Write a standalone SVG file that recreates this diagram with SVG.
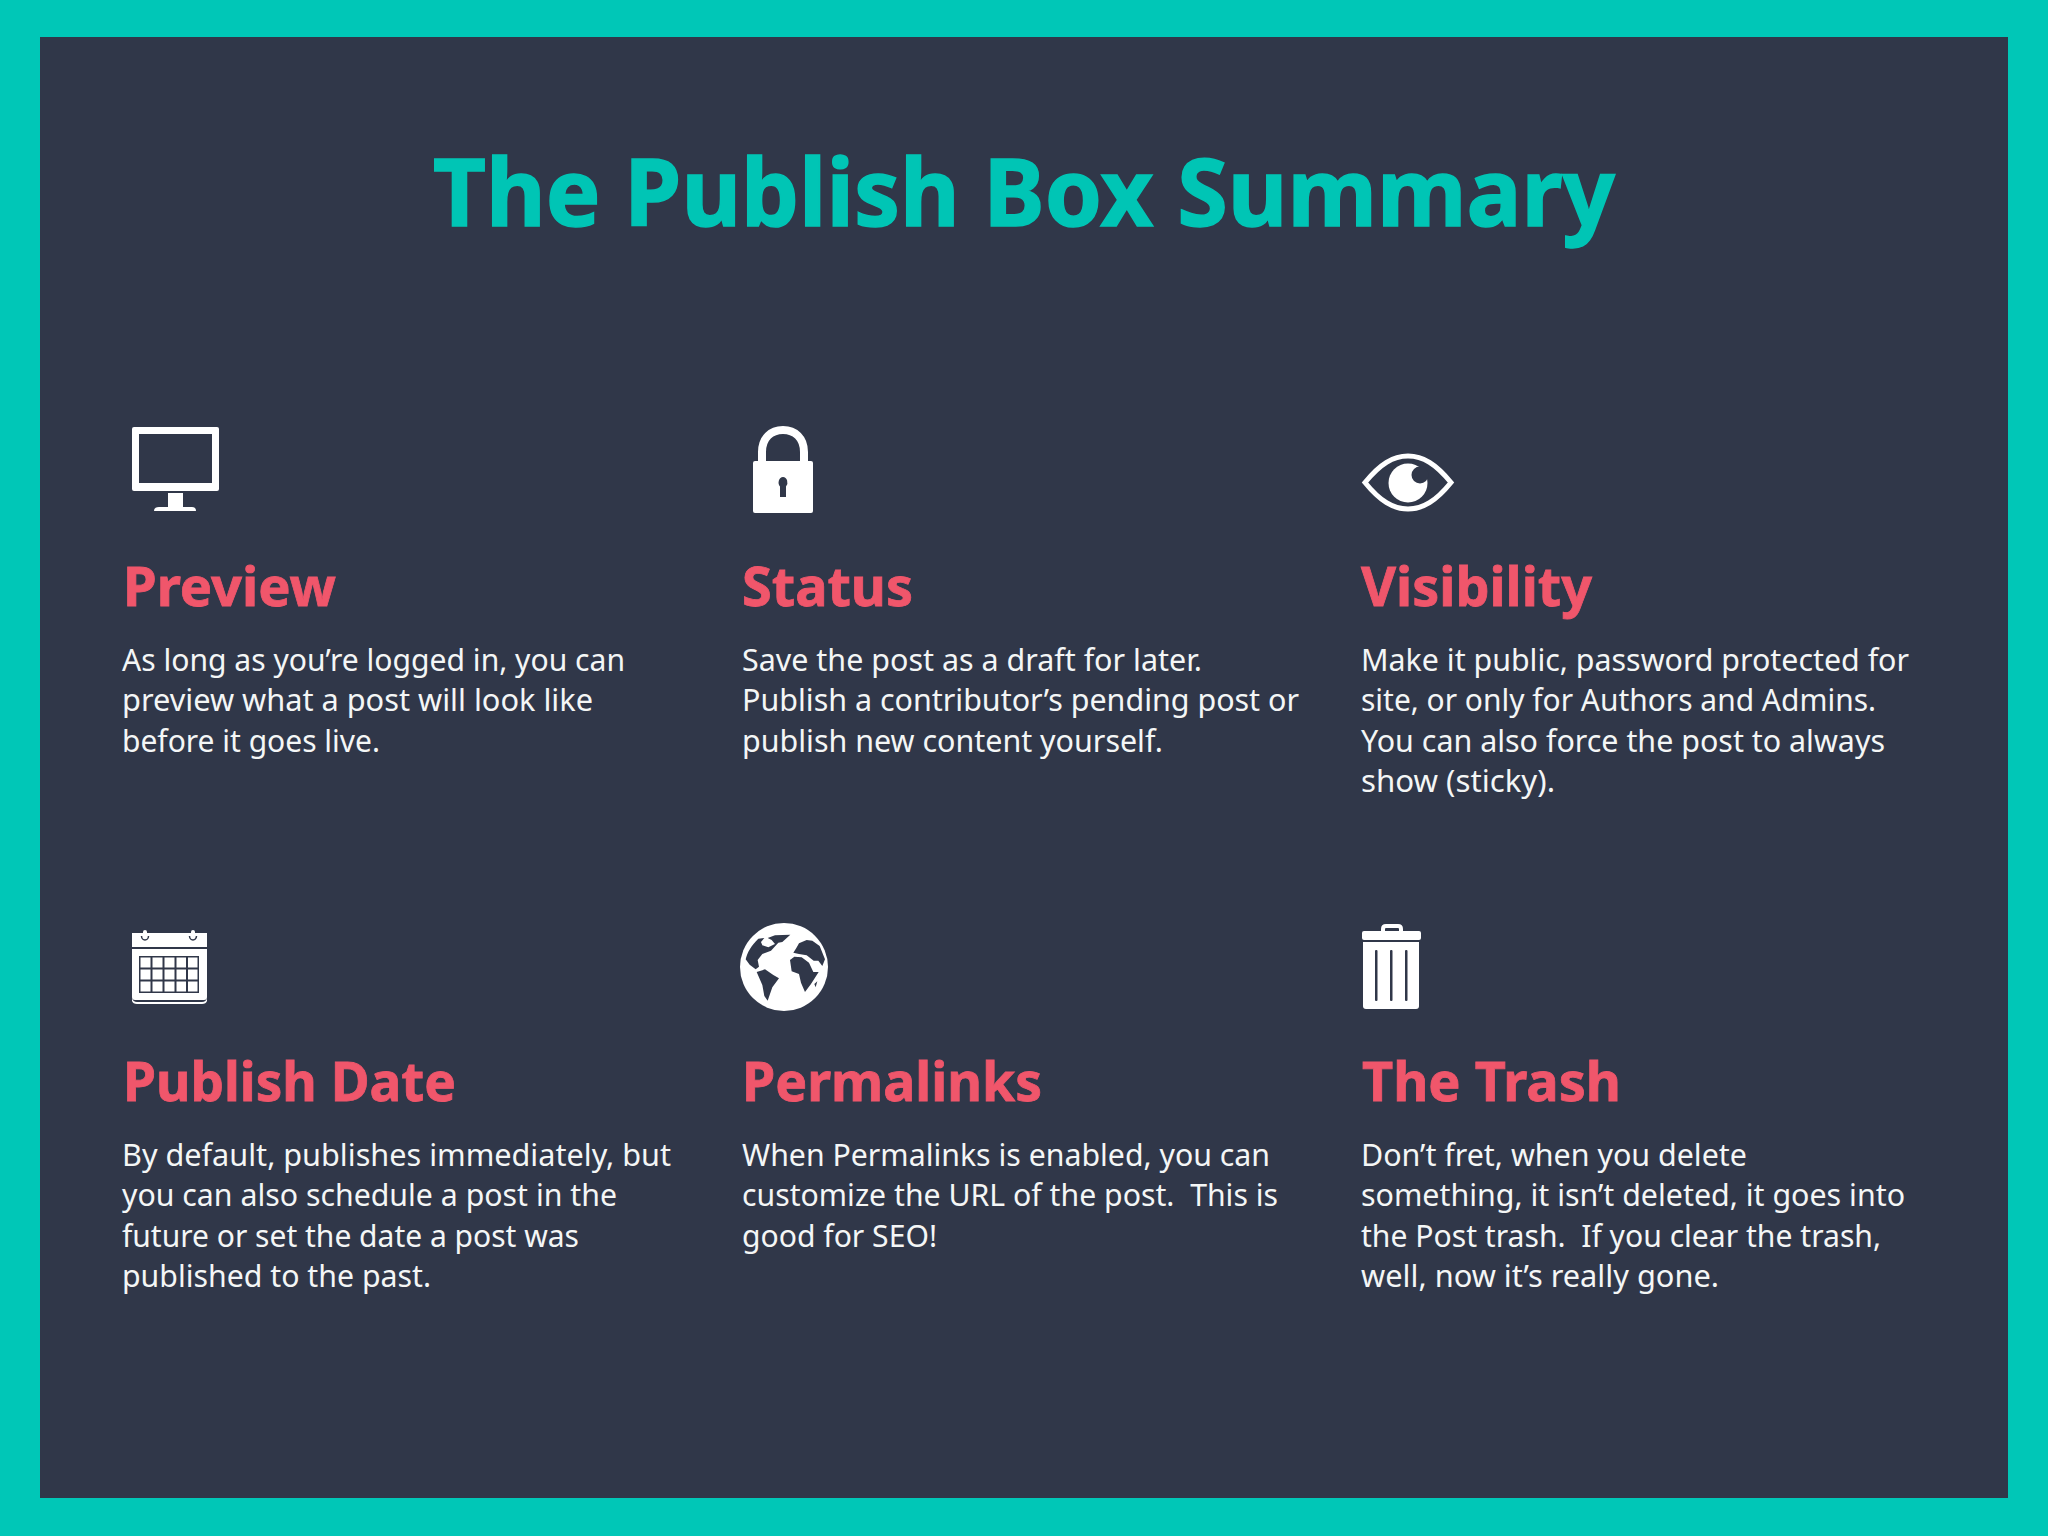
<svg xmlns="http://www.w3.org/2000/svg" width="2048" height="1536" viewBox="0 0 2048 1536">
<style>
text{font-family:"Noto Sans","Open Sans","Liberation Sans",sans-serif;white-space:pre}
.t{font-size:94px;font-weight:700;fill:#00c5b5;stroke:#00c5b5;stroke-width:1.500px}
.h{font-size:54.500px;font-weight:700;fill:#f0566b;stroke:#f0566b;stroke-width:.8px}
.b{font-size:30px;fill:#f4f6f6}
.w{fill:#fff}
.d{fill:#303749}
</style>
<rect width="2048" height="1536" fill="#00c7b7"/>
<rect x="40" y="37" width="1968" height="1461" fill="#303749"/>
<text id="title" class="t" x="433" y="226" textLength="1182" lengthAdjust="spacingAndGlyphs">The Publish Box Summary</text>

<g id="preview">
<g id="icon-monitor">
<rect class="w" x="132" y="427" width="87" height="64" rx="2"/>
<rect class="d" x="139" y="434" width="73" height="49"/>
<rect class="w" x="168" y="493" width="15" height="15"/>
<path class="w" d="M154,511 Q154,507 159,507 H192 Q196,507 196,511 Z"/>
</g>
<text class="h" x="123" y="606" textLength="213" lengthAdjust="spacingAndGlyphs">Preview</text>
<text class="b" x="122" y="671" textLength="503" lengthAdjust="spacingAndGlyphs">As long as you’re logged in, you can</text>
<text class="b" x="122" y="711" textLength="471" lengthAdjust="spacingAndGlyphs">preview what a post will look like</text>
<text class="b" x="122" y="752" textLength="258" lengthAdjust="spacingAndGlyphs">before it goes live.</text>
</g>

<g id="status">
<g id="icon-lock">
<path d="M762,463 V452 C762,438 771,430 783,430 C795,430 804,438 804,452 V463" fill="none" stroke="#fff" stroke-width="8"/>
<rect class="w" x="753" y="461" width="60" height="52" rx="2"/>
<path class="d" d="M783,477 a4.5,5.500 0 0 1 3,9.500 V497 H780 V486.500 A4.500,5.500 0 0 1 783,477 Z"/>
</g>
<text class="h" x="742" y="606" textLength="171" lengthAdjust="spacingAndGlyphs">Status</text>
<text class="b" x="742" y="671" textLength="460" lengthAdjust="spacingAndGlyphs">Save the post as a draft for later.</text>
<text class="b" x="742" y="711" textLength="557" lengthAdjust="spacingAndGlyphs">Publish a contributor’s pending post or</text>
<text class="b" x="742" y="752" textLength="421" lengthAdjust="spacingAndGlyphs">publish new content yourself.</text>
</g>

<g id="visibility">
<g id="icon-eye">
<path d="M1365,482.500 C1380,464 1393,456 1408,456 C1423,456 1436,464 1451,482.500 C1436,501 1423,509 1408,509 C1393,509 1380,501 1365,482.500 Z" fill="none" stroke="#fff" stroke-width="5"/>
<circle class="w" cx="1408" cy="483" r="19.500"/>
<circle class="d" cx="1420" cy="475" r="8.500"/>
</g>
<text class="h" x="1361" y="606" textLength="231" lengthAdjust="spacingAndGlyphs">Visibility</text>
<text class="b" x="1361" y="671" textLength="548" lengthAdjust="spacingAndGlyphs">Make it public, password protected for</text>
<text class="b" x="1361" y="711" textLength="515" lengthAdjust="spacingAndGlyphs">site, or only for Authors and Admins.</text>
<text class="b" x="1361" y="752" textLength="524" lengthAdjust="spacingAndGlyphs">You can also force the post to always</text>
<text class="b" x="1361" y="792" textLength="194" lengthAdjust="spacingAndGlyphs">show (sticky).</text>
</g>

<g id="publish-date">
<g id="icon-calendar">
<path class="w" d="M132,933 H207 V947 H132 Z"/>
<path class="w" d="M132,949 H207 V997 Q207,1000 204,1000 H135 Q132,1000 132,997 Z"/>
<path class="w" d="M132,998 Q133,1002 137,1002 H202 Q206,1002 207,998 V1001 Q206,1004 202,1004 H137 Q133,1004 132,1001 Z"/>
<path d="M141.500,936 a3.500,4 0 1 0 7,0 M189.500,936 a3.500,4 0 1 0 7,0" stroke="#303749" stroke-width="1.500" fill="none"/>
<rect class="w" x="143" y="930" width="4" height="9" rx="2"/><rect class="w" x="191" y="930" width="4" height="9" rx="2"/>
<rect class="d" x="139" y="956" width="60" height="37"/>
<g class="w"><rect x="140.500" y="957.500" width="10" height="10"/><rect x="152.500" y="957.500" width="10" height="10"/><rect x="164.500" y="957.500" width="10" height="10"/><rect x="176.500" y="957.500" width="9.500" height="10"/><rect x="188" y="957.500" width="9.500" height="10"/>
<rect x="140.500" y="969.500" width="10" height="10"/><rect x="152.500" y="969.500" width="10" height="10"/><rect x="164.500" y="969.500" width="10" height="10"/><rect x="176.500" y="969.500" width="9.500" height="10"/><rect x="188" y="969.500" width="9.500" height="10"/>
<rect x="140.500" y="981.500" width="10" height="10"/><rect x="152.500" y="981.500" width="10" height="10"/><rect x="164.500" y="981.500" width="10" height="10"/><rect x="176.500" y="981.500" width="9.500" height="10"/><rect x="188" y="981.500" width="9.500" height="10"/></g>
</g>
<text class="h" x="123" y="1101" textLength="333" lengthAdjust="spacingAndGlyphs">Publish Date</text>
<text class="b" x="122" y="1166" textLength="549" lengthAdjust="spacingAndGlyphs">By default, publishes immediately, but</text>
<text class="b" x="122" y="1206" textLength="495" lengthAdjust="spacingAndGlyphs">you can also schedule a post in the</text>
<text class="b" x="122" y="1247" textLength="457" lengthAdjust="spacingAndGlyphs">future or set the date a post was</text>
<text class="b" x="122" y="1287" textLength="309" lengthAdjust="spacingAndGlyphs">published to the past.</text>
</g>

<g id="permalinks">
<g id="icon-globe">
<circle class="w" cx="784" cy="967" r="44"/>
<g transform="translate(725,910) scale(.3333)" fill="#303749">
<path d="M62,148 C66,128 80,105 100,86 L118,84 L108,96 L112,106 L130,112 L150,102 L140,90 L128,84 L150,76 L196,74 L172,96 L160,98 L138,122 L112,132 L98,150 L102,170 L92,178 L74,164 Z"/>
<path d="M95,186 L120,178 L145,195 L162,205 L142,232 L128,272 L118,258 L112,225 Z"/>
<path d="M205,128 L214,114 L222,100 L245,90 L262,92 L284,108 L300,148 L292,168 L280,152 L266,152 L245,136 L222,132 Z"/>
<path d="M195,150 L208,140 L230,142 L252,158 L265,186 L281,186 L258,222 L240,246 L228,218 L222,192 L200,184 Z"/>
<path d="M268,222 L277,214 L272,232 Z"/>
</g>
</g>
<text class="h" x="742" y="1101" textLength="300" lengthAdjust="spacingAndGlyphs">Permalinks</text>
<text class="b" x="742" y="1166" textLength="528" lengthAdjust="spacingAndGlyphs">When Permalinks is enabled, you can</text>
<text class="b" x="742" y="1206" textLength="536" lengthAdjust="spacingAndGlyphs">customize the URL of the post.  This is</text>
<text class="b" x="742" y="1247" textLength="195" lengthAdjust="spacingAndGlyphs">good for SEO!</text>
</g>

<g id="the-trash">
<g id="icon-trash">
<path d="M1383,931 V929 Q1383,926 1386,926 H1398 Q1401,926 1401,929 V931" fill="none" stroke="#fff" stroke-width="4"/>
<rect class="w" x="1362" y="931" width="59" height="9" rx="2"/>
<path class="w" d="M1363,942 H1419 V1006 Q1419,1009 1416,1009 H1366 Q1363,1009 1363,1006 Z"/>
<rect class="d" x="1375" y="950" width="2.500" height="51" rx="1"/>
<rect class="d" x="1390" y="950" width="2.500" height="51" rx="1"/>
<rect class="d" x="1405" y="950" width="2.500" height="51" rx="1"/>
</g>
<text class="h" x="1362" y="1101" textLength="259" lengthAdjust="spacingAndGlyphs">The Trash</text>
<text class="b" x="1361" y="1166" textLength="386" lengthAdjust="spacingAndGlyphs">Don’t fret, when you delete</text>
<text class="b" x="1361" y="1206" textLength="544" lengthAdjust="spacingAndGlyphs">something, it isn’t deleted, it goes into</text>
<text class="b" x="1361" y="1247" textLength="520" lengthAdjust="spacingAndGlyphs">the Post trash.  If you clear the trash,</text>
<text class="b" x="1361" y="1287" textLength="358" lengthAdjust="spacingAndGlyphs">well, now it’s really gone.</text>
</g>
</svg>
